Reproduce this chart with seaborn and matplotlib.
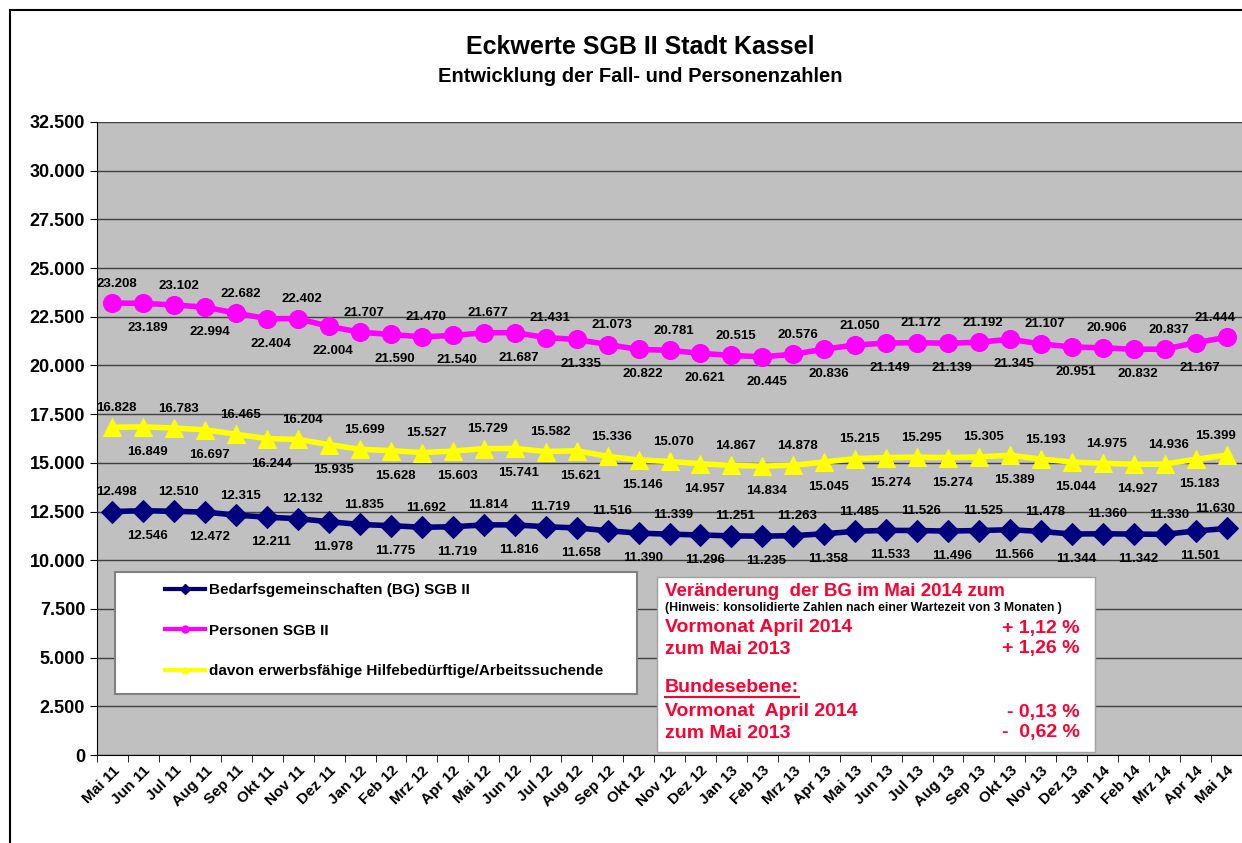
import seaborn as sns
import numpy as np
import pandas as pd
import matplotlib.pyplot as plt
import matplotlib as mpl
from matplotlib.lines import Line2D

monate = ['Mai 11', 'Jun 11', 'Jul 11', 'Aug 11', 'Sep 11', 'Okt 11', 'Nov 11', 'Dez 11',
          'Jan 12', 'Feb 12', 'Mrz 12', 'Apr 12', 'Mai 12', 'Jun 12', 'Jul 12', 'Aug 12',
          'Sep 12', 'Okt 12', 'Nov 12', 'Dez 12', 'Jan 13', 'Feb 13', 'Mrz 13', 'Apr 13',
          'Mai 13', 'Jun 13', 'Jul 13', 'Aug 13', 'Sep 13', 'Okt 13', 'Nov 13', 'Dez 13',
          'Jan 14', 'Feb 14', 'Mrz 14', 'Apr 14', 'Mai 14']

bg = [12498, 12546, 12510, 12472, 12315, 12211, 12132, 11978, 11835, 11775, 11692, 11719,
      11814, 11816, 11719, 11658, 11516, 11390, 11339, 11296, 11251, 11235, 11263, 11358,
      11485, 11533, 11526, 11496, 11525, 11566, 11478, 11344, 11360, 11342, 11330, 11501,
      11630]

personen = [23208, 23189, 23102, 22994, 22682, 22404, 22402, 22004, 21707, 21590, 21470, 21540,
            21677, 21687, 21431, 21335, 21073, 20822, 20781, 20621, 20515, 20445, 20576, 20836,
            21050, 21149, 21172, 21139, 21192, 21345, 21107, 20951, 20906, 20832, 20837, 21167,
            21444]

ehb = [16828, 16849, 16783, 16697, 16465, 16244, 16204, 15935, 15699, 15628, 15527, 15603,
       15729, 15741, 15582, 15621, 15336, 15146, 15070, 14957, 14867, 14834, 14878, 15045,
       15215, 15274, 15295, 15274, 15305, 15389, 15193, 15044, 14975, 14927, 14936, 15183,
       15399]

serien = ['Bedarfsgemeinschaften (BG) SGB II', 'Personen SGB II',
          'davon erwerbsfähige Hilfebedürftige/Arbeitssuchende']

farben = {serien[0]: '#00007f', serien[1]: '#ff00ff', serien[2]: '#ffff00'}
marker = {serien[0]: 'D', serien[1]: 'o', serien[2]: '^'}
msize = {serien[0]: 11, serien[1]: 13, serien[2]: 13}


def tausender(x, pos=None):
    return f'{int(x):,}'.replace(',', '.')


df = pd.DataFrame({'idx': np.tile(np.arange(len(monate)), 3),
                   'wert': bg + personen + ehb,
                   'serie': np.repeat(serien, len(monate))})

plt.rcParams['font.family'] = ['Liberation Sans', 'DejaVu Sans']
fig = plt.figure(figsize=(12.42, 8.43), dpi=100)
ax = fig.add_axes([97 / 1242, 1 - 755 / 843, 1 - 97 / 1242, 633 / 843])
ax.set_facecolor('#c0c0c0')

n = len(monate)
for s in serien:
    sub = df[df['serie'] == s]
    sns.lineplot(data=sub, x='idx', y='wert', ax=ax, color=farben[s], linewidth=4,
                 marker=marker[s], markersize=msize[s], markeredgecolor=farben[s],
                 legend=False, zorder=3)
    for i, (xv, yv) in enumerate(zip(sub['idx'], sub['wert'])):
        dy = 14 if i % 2 == 0 else -18
        dx = -8 if i == n - 1 else 3
        ax.annotate(tausender(yv), (xv, yv), xytext=(dx, dy), textcoords='offset points',
                    ha='center', va='center', fontsize=9.5, fontweight='bold', zorder=4)

ax.set_ylim(0, 32500)
ax.set_yticks(np.arange(0, 32501, 2500))
ax.yaxis.set_major_formatter(mpl.ticker.FuncFormatter(tausender))
ax.set_xlim(-0.5, n - 0.5)
ax.set_xticks(np.arange(n))
ax.set_xticks(np.arange(n + 1) - 0.5, minor=True)
ax.set_xticklabels(monate, rotation=45, ha='right', rotation_mode='anchor')
ax.set_xlabel('')
ax.set_ylabel('')
ax.grid(axis='y', color='#404040', linewidth=1)
ax.set_axisbelow(True)
for sp in ['top', 'right']:
    ax.spines[sp].set_visible(False)
for lab in ax.get_xticklabels() + ax.get_yticklabels():
    lab.set_fontweight('bold')
ax.tick_params(axis='y', labelsize=13, length=5)
ax.tick_params(axis='x', which='major', labelsize=11, length=0, pad=6)
ax.tick_params(axis='x', which='minor', length=5)

# Legende: weisser Kasten plus rahmenlose Legende
lbox = mpl.patches.Rectangle((18 / 1145, 61 / 633), 522 / 1145, 122 / 633, transform=ax.transAxes,
                             facecolor='white', edgecolor='#808080', linewidth=1.5, zorder=5)
ax.add_patch(lbox)
handles = [Line2D([0], [0], color=farben[s], lw=3, marker=marker[s], markersize=5) for s in serien]
leg = ax.legend(handles, serien, loc='upper left', bbox_to_anchor=(68 / 1145, 172 / 633),
                frameon=False, labelspacing=1.75, borderpad=0, borderaxespad=0,
                handlelength=2.6, handletextpad=0.25, prop={'size': 11, 'weight': 'bold'})
leg.set_zorder(6)

# Textbox
rot = '#ff0030'
box = mpl.patches.Rectangle((657 / 1242, 1 - 752 / 843), 438 / 1242, 175 / 843,
                            transform=fig.transFigure, facecolor='white', edgecolor='#a0a0a0',
                            zorder=5)
fig.patches.append(box)
x0, x1 = 665 / 1242, 1080 / 1242


def ftext(x, ypix, txt, **kw):
    fig.text(x, 1 - ypix / 843, txt, va='center', zorder=6, **kw)


ftext(x0, 591, 'Veränderung  der BG im Mai 2014 zum', color=rot, fontsize=13.5, fontweight='bold')
ftext(x0, 608, '(Hinweis: konsolidierte Zahlen nach einer Wartezeit von 3 Monaten )', fontsize=8.8,
      fontweight='bold')
ftext(x0, 628, 'Vormonat April 2014', color=rot, fontsize=14, fontweight='bold')
ftext(x1, 628, '+ 1,12 %', color=rot, fontsize=14, fontweight='bold', ha='right')
ftext(x0, 649, 'zum Mai 2013', color=rot, fontsize=14, fontweight='bold')
ftext(x1, 649, '+ 1,26 %', color=rot, fontsize=14, fontweight='bold', ha='right')
ftext(x0, 688, 'Bundesebene:', color=rot, fontsize=14, fontweight='bold')
fig.add_artist(Line2D([x0, 799 / 1242], [1 - 697 / 843] * 2, color=rot, lw=1.5, zorder=6))
ftext(x0, 712, 'Vormonat  April 2014', color=rot, fontsize=14, fontweight='bold')
ftext(x1, 712, '- 0,13 %', color=rot, fontsize=14, fontweight='bold', ha='right')
ftext(x0, 733, 'zum Mai 2013', color=rot, fontsize=14, fontweight='bold')
ftext(x1, 733, '-  0,62 %', color=rot, fontsize=14, fontweight='bold', ha='right')

# Titel
fig.text(640 / 1242, 1 - 47 / 843, 'Eckwerte SGB II Stadt Kassel', ha='center', va='center',
         fontsize=18, fontweight='bold')
fig.text(640 / 1242, 1 - 76 / 843, 'Entwicklung der Fall- und Personenzahlen', ha='center',
         va='center', fontsize=14.5, fontweight='bold')

# Rahmen
fig.add_artist(Line2D([10 / 1242, 1], [1 - 10 / 843] * 2, color='black', lw=1.5))
fig.add_artist(Line2D([10 / 1242] * 2, [0, 1 - 10 / 843], color='black', lw=1.5))

fig.savefig('out.png', dpi=100)
